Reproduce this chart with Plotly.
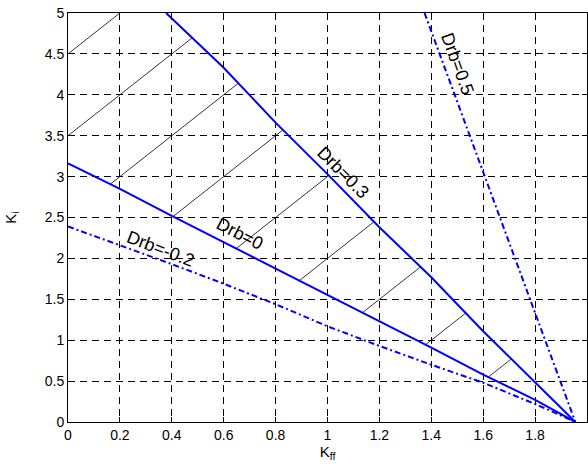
import numpy as np
import plotly.graph_objects as go

# ---- data ----
kff_grid = [0, 0.2, 0.4, 0.6, 0.8, 1.0, 1.2, 1.4, 1.6, 1.8, 1.955]
ki_drb0 = [3.16, 2.85, 2.52, 2.20, 1.87, 1.55, 1.23, 0.91, 0.58, 0.27, 0]
ki_drbm02 = [2.39, 2.16, 1.93, 1.69, 1.44, 1.17, 0.93, 0.70, 0.48, 0.22, 0]

kff_drb03 = [0.378, 0.6, 0.8, 1.0, 1.2, 1.4, 1.6, 1.8, 1.955]
ki_drb03 = [5.0, 4.33, 3.66, 3.03, 2.38, 1.77, 1.11, 0.48, 0]

kff_drb05 = [1.374, 1.955]
ki_drb05 = [5.0, 0]

hatch_slope = 2.5
hatch_intercepts = [4.5, 3.5, 2.5, 1.5, 0.5, -0.5, -1.5, -2.5, -3.5]

labels = ["Drb=0.5", "Drb=0.3", "Drb=0", "Drb=-0.2"]
label_x = [1.501, 1.062, 0.664, 0.358]
label_y = [4.375, 3.05, 2.30, 2.11]
label_angle = [70, 45, 27, 21]

x_ticks = [0, 0.2, 0.4, 0.6, 0.8, 1.0, 1.2, 1.4, 1.6, 1.8, 2.0]
y_ticks = [0, 0.5, 1, 1.5, 2, 2.5, 3, 3.5, 4, 4.5, 5]

BLUE = "#0000ff"
FONT = "Liberation Sans, Arial, sans-serif"

fig = go.Figure()

# hatch lines between Drb=0 and Drb=0.3
xs = np.linspace(0, 2, 4001)
lower = np.interp(xs, kff_grid, ki_drb0, right=0)
upper = np.minimum(np.interp(xs, kff_drb03, ki_drb03, left=1e9, right=0), 5.0)
hx, hy = [], []
for c in hatch_intercepts:
    yy = hatch_slope * xs + c
    m = (yy >= lower) & (yy <= upper)
    if m.sum() < 2:
        continue
    idx = np.where(m)[0]
    x0, x1 = xs[idx[0]], xs[idx[-1]]
    hx += [x0, x1, None]
    hy += [hatch_slope * x0 + c, hatch_slope * x1 + c, None]
fig.add_trace(go.Scatter(x=hx, y=hy, mode="lines",
                         line=dict(color="black", width=0.8), showlegend=False))

dashdot = "6px,3px,2px,3px"
fig.add_trace(go.Scatter(x=kff_grid, y=ki_drbm02, mode="lines",
                         line=dict(color=BLUE, width=2, dash=dashdot), showlegend=False))
fig.add_trace(go.Scatter(x=kff_grid, y=ki_drb0, mode="lines",
                         line=dict(color=BLUE, width=2), showlegend=False))
fig.add_trace(go.Scatter(x=kff_drb03, y=ki_drb03, mode="lines",
                         line=dict(color=BLUE, width=2), showlegend=False))
fig.add_trace(go.Scatter(x=kff_drb05, y=ki_drb05, mode="lines",
                         line=dict(color=BLUE, width=2, dash=dashdot), showlegend=False))

for t, x, y, a in zip(labels, label_x, label_y, label_angle):
    fig.add_annotation(x=x, y=y, text=t, textangle=a, showarrow=False,
                       xanchor="center", yanchor="middle",
                       font=dict(family=FONT, size=18, color="black"))

axis_common = dict(
    showgrid=True, gridcolor="black", gridwidth=1, griddash="7px,5px",
    zeroline=False, showline=True, linecolor="black", linewidth=1,
    mirror="ticks", ticks="inside", ticklen=5, tickcolor="black",
    tickfont=dict(family=FONT, size=14, color="black"),
)

fig.update_layout(
    width=588, height=470,
    margin=dict(l=68, r=1, t=13, b=48),
    paper_bgcolor="white", plot_bgcolor="white",
    font=dict(family=FONT, color="black"),
    hovermode=False,
    xaxis=dict(range=[0, 2], tickvals=x_ticks,
               title=dict(text="K<sub>ff</sub>", font=dict(size=15), standoff=4),
               **axis_common),
    yaxis=dict(range=[0, 5], tickvals=y_ticks,
               title=dict(text="K<sub>i</sub>", font=dict(size=15), standoff=24),
               **axis_common),
)

fig.write_html("out.html",
               config={"displayModeBar": False, "staticPlot": True},
               post_script="document.body.style.margin='0';document.body.style.overflow='hidden';")
